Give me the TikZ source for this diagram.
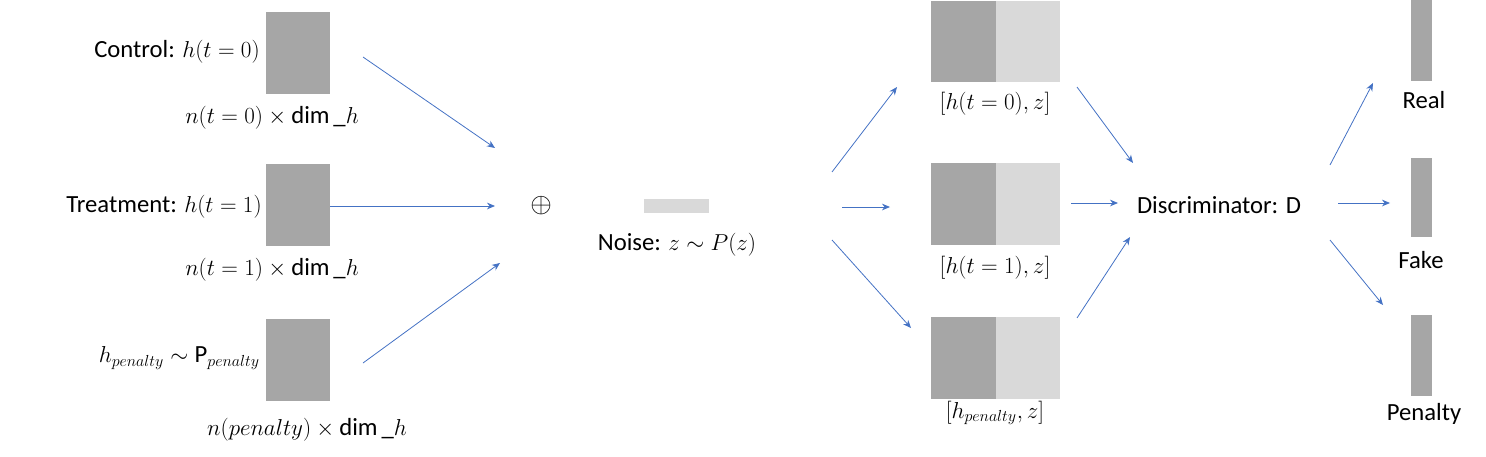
\documentclass[tikz,border=0pt]{standalone}
\usepackage{fontspec}
\setmainfont{Carlito}
\usetikzlibrary{arrows.meta}
\definecolor{dg}{HTML}{A6A6A6}
\definecolor{lg}{HTML}{D9D9D9}
\definecolor{ab}{HTML}{4472C4}
\begin{document}
\begin{tikzpicture}[x=0.75pt,y=-0.75pt,
  every node/.style={font=\fontsize{18.5}{21}\selectfont, inner sep=0pt},
  arr/.style={draw=ab, line width=0.6pt, -{Stealth[length=6pt,width=5pt]}}]
\useasboundingbox (0,0) rectangle (1486,457);
% left boxes
\fill[dg] (266,12) rectangle (330,94);
\fill[dg] (266,164) rectangle (330,246);
\fill[dg] (266,319) rectangle (330,401);
\node[anchor=east] (c) at (260,52) {Control: $h(t=0)$};
\node (cn) at (272,118) {$n(t=0)\times\dim\_h$};
\node[anchor=east] (t) at (262,207) {Treatment: $h(t=1)$};
\node (tn) at (272,270) {$n(t=1)\times\dim\_h$};
\node[anchor=east] (p) at (260,358) {$h_{penalty}\sim\mathrm{P}_{penalty}$};
\node (pn) at (307,430) {$n(penalty)\times\dim\_h$};
\coordinate (a1s) at (363,57); \coordinate (a1e) at (495,148);
\coordinate (a2s) at (330,206); \coordinate (a2e) at (495,206);
\coordinate (a3s) at (363,363); \coordinate (a3e) at (500,263);
\draw[arr] (a1s) -- (a1e);
\draw[arr] (a2s) -- (a2e);
\draw[arr] (a3s) -- (a3e);
\node (plus) at (541,206) {\fontsize{22}{24}\selectfont$\oplus$};
\fill[lg] (644,199) rectangle (709,213);
\node (noise) at (677,245) {Noise: $z\sim P(z)$};
\coordinate (b1s) at (832,172); \coordinate (b1e) at (897,87);
\coordinate (b2s) at (842,207); \coordinate (b2e) at (890,207);
\coordinate (b3s) at (832,240); \coordinate (b3e) at (911,328);
\draw[arr] (b1s) -- (b1e);
\draw[arr] (b2s) -- (b2e);
\draw[arr] (b3s) -- (b3e);
\foreach \y/\h in {1/82,163/245,317/399}{
  \fill[dg] (931,\y) rectangle (996,\h);
  \fill[lg] (996,\y) rectangle (1060,\h);
}
\node (l1) at (995,104) {$[h(t=0),z]$};
\node (l2) at (995,268) {$[h(t=1),z]$};
\node (l3) at (995,413) {$[h_{penalty},z]$};
\coordinate (c1s) at (1077,87); \coordinate (c1e) at (1133,163);
\coordinate (c2s) at (1071,203); \coordinate (c2e) at (1118,203);
\coordinate (c3s) at (1077,318); \coordinate (c3e) at (1130,237);
\draw[arr] (c1s) -- (c1e);
\draw[arr] (c2s) -- (c2e);
\draw[arr] (c3s) -- (c3e);
\node (d) at (1219,205) {Discriminator: $\mathrm{D}$};
\coordinate (d1s) at (1330,165); \coordinate (d1e) at (1373,83);
\coordinate (d2s) at (1338,203); \coordinate (d2e) at (1390,203);
\coordinate (d3s) at (1330,240); \coordinate (d3e) at (1383,305);
\draw[arr] (d1s) -- (d1e);
\draw[arr] (d2s) -- (d2e);
\draw[arr] (d3s) -- (d3e);
\fill[dg] (1411,0) rectangle (1432,81);
\fill[dg] (1411,158) rectangle (1432,237);
\fill[dg] (1411,315) rectangle (1432,396);
\node (r) at (1424,100) {Real};
\node (f) at (1421,260) {Fake};
\node (pe) at (1424,414) {Penalty};
\end{tikzpicture}
\end{document}
